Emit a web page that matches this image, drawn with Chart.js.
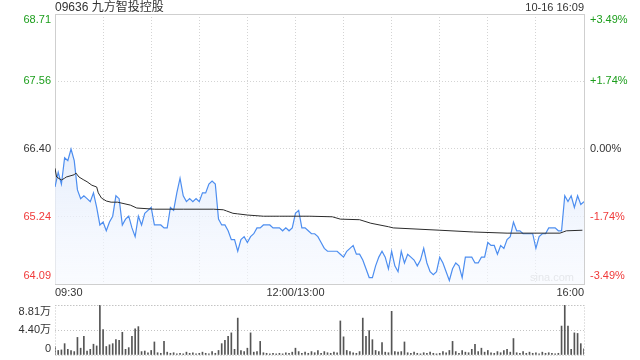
<!DOCTYPE html>
<html>
<head>
<meta charset="utf-8">
<script src="https://cdn.jsdelivr.net/npm/chart.js@4"></script>
<style>
  html, body { margin: 0; padding: 0; background: #fff; }
  #wrap { position: relative; width: 640px; height: 360px; }
  #wrap canvas { position: absolute; left: 0; top: 0; }
</style>
</head>
<body>
<div id="wrap">
  <canvas id="priceChart" width="640" height="360"></canvas>
  <canvas id="volChart" width="640" height="360"></canvas>
</div>
<script>
const stockTitle = '09636 九方智投控股';
const stampText = '10-16 16:09';
const prevClose = 66.40;
const priceTicks = [68.71, 67.56, 66.40, 65.24, 64.09];
const pctLabels = ['+3.49%', '+1.74%', '0.00%', '-1.74%', '-3.49%'];
const timeLabels = ['09:30', '12:00/13:00', '16:00'];
const timeLabelMinutes = [0, 150, 330];
const gridMinutes = [0, 30, 60, 90, 120, 150, 180, 210, 240, 270, 300, 330];
const volTicks = [0, 4.40, 8.81];
const volLabels = ['0', '4.40万', '8.81万'];
const sampleStep = 2; // minutes between samples, trading time since 09:30

const prices = [
  65.75, 66.00, 65.80, 66.25, 66.20, 66.40, 66.20, 65.70, 65.55, 65.60,
  65.55, 65.50, 65.65, 65.40, 65.10, 65.15, 65.00, 65.15, 65.25, 65.60,
  65.55, 65.10, 65.20, 65.25, 65.05, 64.90, 65.25, 65.10, 65.30, 65.35,
  65.40, 65.10, 65.10, 65.10, 65.05, 65.05, 65.40, 65.35, 65.65, 65.90,
  65.60, 65.50, 65.55, 65.50, 65.55, 65.50, 65.65, 65.65, 65.80, 65.85,
  65.80, 65.20, 65.10, 65.10, 65.00, 64.85, 64.85, 64.65, 64.85, 64.90,
  64.80, 64.90, 64.95, 65.05, 65.05, 65.10, 65.10, 65.10, 65.05, 65.05,
  65.05, 65.00, 65.05, 65.00, 65.05, 65.30, 65.35, 65.05, 65.05, 65.00,
  64.95, 64.95, 64.90, 64.80, 64.70, 64.65, 64.65, 64.65, 64.65, 64.60,
  64.55, 64.65, 64.70, 64.75, 64.60, 64.60, 64.50, 64.35, 64.20, 64.20,
  64.40, 64.55, 64.65, 64.55, 64.35, 64.65, 64.40, 64.30, 64.65, 64.45,
  64.60, 64.55, 64.50, 64.40, 64.50, 64.70, 64.45, 64.30, 64.25, 64.30,
  64.55, 64.45, 64.30, 64.15, 64.35, 64.45, 64.40, 64.20, 64.55, 64.55,
  64.55, 64.45, 64.45, 64.55, 64.55, 64.80, 64.75, 64.75, 64.60, 64.75,
  64.70, 64.85, 64.90, 65.15, 65.00, 65.00, 64.95, 64.95, 64.95, 64.95,
  64.70, 64.90, 64.95, 64.95, 65.05, 65.05, 65.05, 65.00, 65.00, 65.60,
  65.50, 65.60, 65.40, 65.60, 65.45, 65.50
];

const avgMinutes = [0, 1, 4, 6, 7, 12, 13, 15, 18, 20, 23, 26, 27, 29, 32, 35, 39, 47, 51, 62,
  80, 99, 105, 107, 111, 114, 120, 130, 140, 159, 173, 178, 190, 197, 208, 211, 240, 261, 282,
  315, 317, 319, 329];
const avgPrices = [66.07, 65.92, 65.87, 65.90, 65.92, 65.96, 65.99, 65.92, 65.87, 65.84, 65.78,
  65.75, 65.65, 65.56, 65.51, 65.49, 65.49, 65.44, 65.39, 65.37, 65.37, 65.37, 65.36, 65.34,
  65.30, 65.29, 65.27, 65.25, 65.25, 65.25, 65.24, 65.20, 65.19, 65.13, 65.07, 65.05, 65.01,
  64.98, 64.96, 64.96, 64.98, 65.00, 65.01];

// volume in 万 shares
const volumes = [
  1.5, 0.8, 0.9, 2.0, 1.0, 0.8, 0.6, 3.1, 1.2, 3.3,
  0.7, 1.0, 1.9, 1.6, 8.81, 4.5, 1.5, 1.8, 2.0, 2.7,
  2.6, 4.0, 1.0, 1.3, 3.3, 4.6, 5.0, 0.6, 0.7, 0.4,
  0.8, 2.3, 0.4, 0.3, 2.4, 0.5, 0.3, 0.4, 0.2, 0.3,
  0.2, 0.5, 0.3, 0.4, 0.2, 0.3, 0.5, 0.3, 0.2, 0.6,
  0.3, 0.8, 2.0, 2.6, 3.3, 3.9, 1.0, 6.5, 0.8, 0.6,
  1.2, 3.9, 0.5, 0.6, 2.4, 0.4, 0.3, 0.2, 0.3, 0.2,
  0.3, 0.2, 0.4, 0.3, 0.5, 1.2, 0.6, 0.3, 0.5, 0.3,
  0.6, 0.4, 0.8, 0.3, 0.6, 0.4, 0.3, 0.5, 0.4, 6.0,
  3.2, 0.8, 0.6, 0.4, 0.3, 0.6, 6.5, 3.3, 4.3, 2.7,
  0.8, 0.6, 2.2, 0.5, 0.4, 7.7, 0.6, 0.5, 0.6, 2.3,
  0.4, 0.3, 0.5, 0.3, 0.2, 0.4, 0.3, 0.5, 0.3, 0.2,
  0.3, 0.6, 0.4, 0.8, 2.4, 0.6, 0.3, 0.8, 0.5, 0.4,
  1.0, 1.9, 0.6, 1.2, 0.5, 0.8, 0.4, 0.3, 0.6, 0.4,
  0.8, 1.0, 0.5, 2.9, 0.4, 0.3, 0.6, 0.3, 0.5, 0.3,
  0.4, 0.2, 0.5, 0.3, 0.4, 0.3, 0.2, 0.3, 5.1, 8.81,
  5.1, 1.0, 3.9, 3.8, 2.0, 1.1
];

const FONT = '"Liberation Sans", Arial, "Noto Sans CJK SC", sans-serif';
const GREEN = '#1c9e1c';
const RED = '#f03a3a';
const DARK = '#333';

function colorFor(v) {
  if (v > prevClose + 0.001) return GREEN;
  if (v < prevClose - 0.001) return RED;
  return DARK;
}
function clampY(y, area) {
  return Math.min(Math.max(y, area.top + 6), area.bottom - 8);
}

const priceDecor = {
  id: 'priceDecor',
  beforeDatasetsDraw(chart) {
    const { ctx, chartArea: a } = chart;
    ctx.save();
    ctx.strokeStyle = '#cfcfcf';
    ctx.lineWidth = 1;
    ctx.strokeRect(a.left + 0.5, a.top + 0.5, a.right - a.left, a.bottom - a.top);
    ctx.font = '11px ' + FONT;
    ctx.fillStyle = '#cccccc';
    ctx.textAlign = 'right';
    ctx.textBaseline = 'middle';
    ctx.fillText('sina.com', a.right - 10, a.bottom - 6);
    ctx.restore();
  },
  afterDraw(chart) {
    const { ctx, chartArea: a, scales } = chart;
    ctx.save();
    ctx.textBaseline = 'middle';
    ctx.font = '12px ' + FONT;
    ctx.fillStyle = DARK;
    ctx.textAlign = 'left';
    ctx.fillText(stockTitle, a.left, 8);
    ctx.font = '11px ' + FONT;
    ctx.textAlign = 'right';
    ctx.fillText(stampText, a.right, 8);

    priceTicks.forEach((v, i) => {
      const y = clampY(scales.y.getPixelForValue(v), a);
      ctx.fillStyle = colorFor(v);
      ctx.textAlign = 'right';
      ctx.fillText(v.toFixed(2), a.left - 4, y);
      ctx.textAlign = 'left';
      ctx.fillText(pctLabels[i], a.right + 6, y);
    });

    ctx.fillStyle = DARK;
    const aligns = ['left', 'center', 'right'];
    timeLabels.forEach((t, i) => {
      ctx.textAlign = aligns[i];
      ctx.fillText(t, scales.x.getPixelForValue(timeLabelMinutes[i]), a.bottom + 9);
    });
    ctx.restore();
  }
};

const volDecor = {
  id: 'volDecor',
  afterDraw(chart) {
    const { ctx, chartArea: a, scales } = chart;
    ctx.save();
    ctx.strokeStyle = '#c4c4c4';
    ctx.setLineDash([1, 2]);
    ctx.lineWidth = 1;
    ctx.strokeRect(a.left + 0.5, a.top + 0.5, a.right - a.left, a.bottom - a.top);
    ctx.setLineDash([]);
    ctx.font = '11px ' + FONT;
    ctx.fillStyle = DARK;
    ctx.textAlign = 'right';
    ctx.textBaseline = 'middle';
    volTicks.forEach((v, i) => {
      const y = Math.min(Math.max(scales.y.getPixelForValue(v), a.top + 7), a.bottom - 6);
      ctx.fillText(volLabels[i], a.left - 4, y);
    });
    ctx.restore();
  }
};

new Chart(document.getElementById('priceChart').getContext('2d'), {
  type: 'line',
  data: {
    datasets: [
      {
        data: avgMinutes.map((m, i) => ({ x: m, y: avgPrices[i] })),
        borderColor: '#2b2b2b',
        borderWidth: 1,
        pointRadius: 0,
        fill: false,
        tension: 0
      },
      {
        data: prices.map((p, i) => ({ x: i * sampleStep, y: p })),
        borderColor: '#4d8ef0',
        borderWidth: 1.2,
        pointRadius: 0,
        tension: 0,
        fill: 'start',
        backgroundColor: (c) => {
          const a = c.chart.chartArea;
          if (!a) return 'rgba(0,0,0,0)';
          const g = c.chart.ctx.createLinearGradient(0, a.top + 130, 0, a.bottom);
          g.addColorStop(0, 'rgba(226,235,251,0.85)');
          g.addColorStop(1, 'rgba(246,249,255,0.6)');
          return g;
        }
      }
    ]
  },
  options: {
    responsive: false,
    animation: false,
    layout: { padding: { top: 14, bottom: 76, left: 0, right: 56 } },
    plugins: { legend: { display: false }, tooltip: { enabled: false } },
    scales: {
      x: {
        type: 'linear', min: 0, max: 330,
        afterBuildTicks: (s) => { s.ticks = gridMinutes.map(v => ({ value: v })); },
        ticks: { display: false },
        grid: { color: '#d4d4d4', drawTicks: false },
        border: { display: false, dash: [1, 2] },
        afterFit: (s) => { s.height = 0; }
      },
      y: {
        min: 64.09, max: 68.71,
        afterBuildTicks: (s) => { s.ticks = priceTicks.map(v => ({ value: v })); },
        ticks: { display: false },
        grid: { color: '#d4d4d4', drawTicks: false },
        border: { display: false, dash: [1, 2] },
        afterFit: (s) => { s.width = 55; }
      }
    }
  },
  plugins: [priceDecor]
});

new Chart(document.getElementById('volChart').getContext('2d'), {
  type: 'bar',
  data: {
    datasets: [{
      data: volumes.map((v, i) => ({ x: i * sampleStep, y: v })),
      backgroundColor: '#555555',
      barThickness: 1
    }]
  },
  options: {
    responsive: false,
    animation: false,
    layout: { padding: { top: 305, bottom: 5, left: 0, right: 56 } },
    plugins: { legend: { display: false }, tooltip: { enabled: false } },
    scales: {
      x: {
        type: 'linear', min: 0, max: 330, offset: false,
        ticks: { display: false },
        grid: { display: false, offset: false },
        border: { display: false },
        afterFit: (s) => { s.height = 0; }
      },
      y: {
        min: 0, max: 8.81,
        afterBuildTicks: (s) => { s.ticks = volTicks.map(v => ({ value: v })); },
        ticks: { display: false },
        grid: { color: (c) => (c.tick && c.tick.value === 0 ? 'rgba(0,0,0,0)' : '#c4c4c4'), drawTicks: false },
        border: { display: false, dash: [1, 2] },
        afterFit: (s) => { s.width = 55; }
      }
    }
  },
  plugins: [volDecor]
});
</script>
</body>
</html>
